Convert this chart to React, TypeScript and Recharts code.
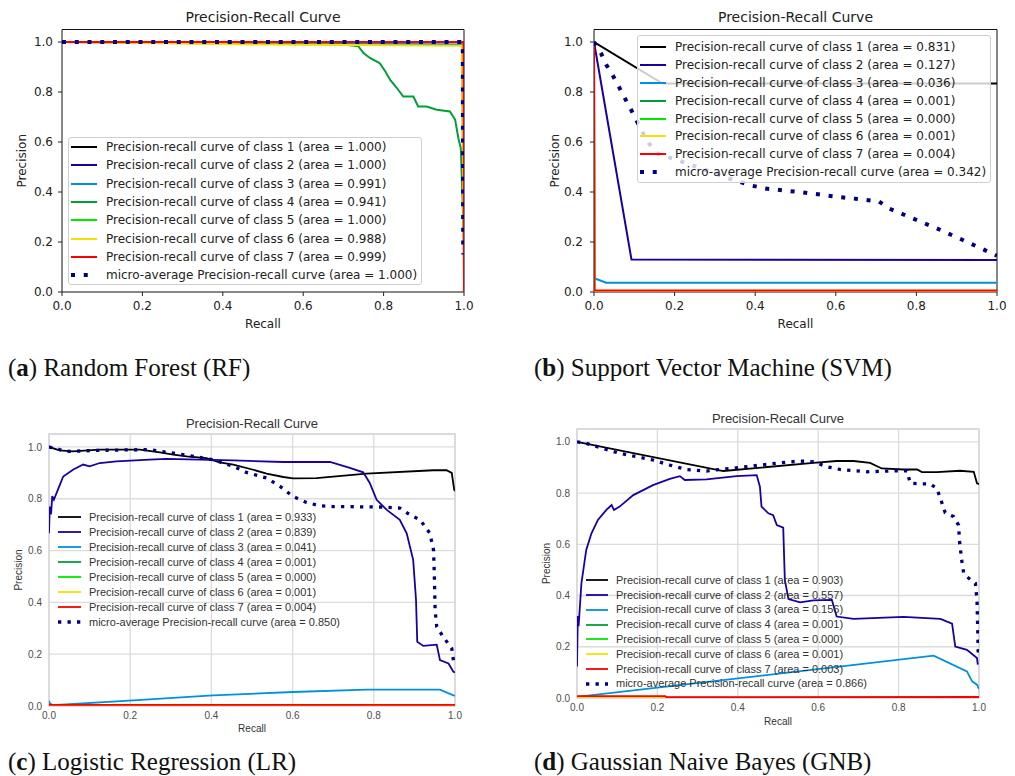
import React from "react";
import { LineChart, Line, XAxis, YAxis, CartesianGrid, Legend, ReferenceArea, Label } from "recharts";

// nipy_spectral colours used by scikit-plot for 7 classes
const classColors = ["#000000", "#1a00a0", "#0090dd", "#00a038", "#00ea00", "#f2e200", "#fa0000"];
const microColor = "#000080";
const axisTicks = [0, 0.2, 0.4, 0.6, 0.8, 1.0];

// (a) Random Forest
const rfAreas = ["1.000", "1.000", "0.991", "0.941", "1.000", "0.988", "0.999"];
const rfMicroArea = "1.000";
const rfRecall = [
  [0, 0.998, 1],
  [0, 0.998, 1],
  [0, 0.6, 0.995, 1],
  [0, 0.7, 0.737, 0.75, 0.766, 0.79, 0.804, 0.816, 0.833, 0.849, 0.874, 0.886, 0.907, 0.932, 0.965, 0.978, 0.986, 0.992, 0.997, 1],
  [0, 0.998, 1],
  [0, 0.5, 0.995, 1],
  [0, 0.999, 1],
];
const rfPrecision = [
  [1, 1, 0.35],
  [1, 1, 0.2],
  [1, 0.995, 0.99, 0.05],
  [1, 0.99, 0.983, 0.956, 0.936, 0.916, 0.883, 0.849, 0.816, 0.782, 0.782, 0.742, 0.742, 0.729, 0.722, 0.689, 0.615, 0.575, 0.342, 0.2],
  [1, 1, 0.25],
  [1, 0.99, 0.985, 0.05],
  [1, 1, 0],
];
const rfMicroRecall = [0, 0.997, 0.998];
const rfMicroPrecision = [1, 1, 0.15];

// (b) Support Vector Machine
const svmAreas = ["0.831", "0.127", "0.036", "0.001", "0.000", "0.001", "0.004"];
const svmMicroArea = "0.342";
const svmRecall = [
  [0, 0.17, 1],
  [0, 0.093, 1],
  [0, 0.001, 0.03, 1],
  [0, 0.001, 1],
  [0, 0.001, 1],
  [0, 0.001, 1],
  [0, 0.001, 1],
];
const svmPrecision = [
  [1, 0.834, 0.834],
  [1, 0.13, 0.128],
  [1, 0.055, 0.037, 0.037],
  [1, 0.001, 0.001],
  [0.85, 0, 0],
  [1, 0.001, 0.001],
  [1, 0.006, 0.006],
];
const svmMicroRecall = [0, 0.017, 0.03, 0.047, 0.062, 0.077, 0.092, 0.12, 0.136, 0.155, 0.184, 0.244, 0.333, 0.393, 0.425, 0.519, 0.614, 0.676, 0.707, 0.731, 0.79, 0.85, 0.907, 0.965, 1.0];
const svmMicroPrecision = [1, 0.956, 0.91, 0.865, 0.82, 0.774, 0.729, 0.64, 0.595, 0.555, 0.54, 0.507, 0.455, 0.425, 0.414, 0.398, 0.379, 0.368, 0.362, 0.335, 0.295, 0.255, 0.214, 0.171, 0.145];

// (c) Logistic Regression
const lrAreas = ["0.933", "0.839", "0.041", "0.001", "0.000", "0.001", "0.004"];
const lrMicroArea = "0.850";
const lrRecall = [
  [0, 0.026, 0.059, 0.125, 0.224, 0.273, 0.306, 0.339, 0.388, 0.42, 0.454, 0.503, 0.536, 0.577, 0.601, 0.659, 0.782, 0.947, 0.979, 0.992, 0.998, 1.0],
  [0, 0.002, 0.005, 0.008, 0.012, 0.022, 0.035, 0.059, 0.084, 0.1, 0.125, 0.166, 0.248, 0.289, 0.454, 0.577, 0.692, 0.741, 0.774, 0.79, 0.807, 0.832, 0.864, 0.881, 0.897, 0.904, 0.907, 0.922, 0.955, 0.963, 0.984, 0.996, 1.0],
  [0, 0.002, 0.01, 0.207, 0.404, 0.601, 0.782, 0.963, 0.996, 1],
  [0, 1],
  [0, 1],
  [0, 1],
  [0, 1],
];
const lrPrecision = [
  [1, 0.987, 0.983, 0.99, 0.99, 0.979, 0.97, 0.964, 0.957, 0.94, 0.932, 0.912, 0.897, 0.884, 0.879, 0.88, 0.897, 0.91, 0.91, 0.9, 0.835, 0.83],
  [0.667, 0.77, 0.74, 0.81, 0.796, 0.835, 0.886, 0.912, 0.932, 0.925, 0.938, 0.944, 0.951, 0.954, 0.948, 0.942, 0.942, 0.919, 0.902, 0.861, 0.796, 0.757, 0.719, 0.667, 0.564, 0.409, 0.248, 0.232, 0.237, 0.177, 0.164, 0.132, 0.13],
  [0.02, 0.01, 0.003, 0.022, 0.041, 0.054, 0.063, 0.063, 0.041, 0.04],
  [0.001, 0.001],
  [0, 0],
  [0.001, 0.001],
  [0.004, 0.004],
];
const lrMicroRecall = [0, 0.026, 0.05, 0.125, 0.248, 0.33, 0.404, 0.454, 0.486, 0.536, 0.569, 0.601, 0.634, 0.667, 0.7, 0.823, 0.864, 0.889, 0.914, 0.938, 0.947, 0.949, 0.951, 0.955, 0.971, 0.992, 0.996];
const lrMicroPrecision = [1, 0.99, 0.983, 0.987, 0.99, 0.97, 0.951, 0.925, 0.902, 0.88, 0.848, 0.809, 0.786, 0.773, 0.77, 0.768, 0.764, 0.738, 0.719, 0.667, 0.603, 0.512, 0.37, 0.306, 0.267, 0.222, 0.177];

// (d) Gaussian Naive Bayes
const gnbAreas = ["0.903", "0.557", "0.156", "0.001", "0.000", "0.001", "0.003"];
const gnbMicroArea = "0.866";
const gnbRecall = [
  [0, 0.364, 0.588, 0.646, 0.688, 0.729, 0.758, 0.812, 0.846, 0.858, 0.895, 0.953, 0.987, 0.995, 1.0],
  [0, 0.002, 0.004, 0.011, 0.023, 0.036, 0.052, 0.073, 0.086, 0.092, 0.106, 0.14, 0.189, 0.231, 0.256, 0.268, 0.322, 0.397, 0.447, 0.455, 0.459, 0.476, 0.488, 0.497, 0.513, 0.517, 0.526, 0.555, 0.588, 0.634, 0.646, 0.688, 0.812, 0.904, 0.933, 0.941, 0.97, 0.995, 0.997],
  [0, 0.887, 0.97, 0.983, 0.995, 1.0],
  [0, 1],
  [0, 1],
  [0, 1],
  [0, 0.22, 0.222, 1],
];
const gnbPrecision = [
  [1, 0.886, 0.918, 0.925, 0.925, 0.918, 0.896, 0.892, 0.892, 0.882, 0.882, 0.887, 0.883, 0.838, 0.835],
  [0.123, 0.32, 0.28, 0.448, 0.578, 0.643, 0.695, 0.734, 0.753, 0.734, 0.747, 0.792, 0.831, 0.855, 0.866, 0.851, 0.853, 0.866, 0.87, 0.825, 0.747, 0.721, 0.714, 0.675, 0.665, 0.461, 0.386, 0.373, 0.381, 0.383, 0.318, 0.309, 0.317, 0.309, 0.29, 0.201, 0.188, 0.156, 0.13],
  [0.004, 0.165, 0.104, 0.065, 0.052, 0.035],
  [0.001, 0.001],
  [0, 0],
  [0.001, 0.001],
  [0.007, 0.007, 0.003, 0.004],
];
const gnbMicroRecall = [0, 0.023, 0.065, 0.106, 0.148, 0.189, 0.231, 0.272, 0.322, 0.355, 0.389, 0.439, 0.505, 0.555, 0.588, 0.621, 0.654, 0.721, 0.796, 0.821, 0.829, 0.879, 0.895, 0.904, 0.916, 0.937, 0.949, 0.952, 0.958, 0.962, 0.974, 0.991, 0.995, 0.997, 0.998];
const gnbMicroPrecision = [1, 0.994, 0.974, 0.955, 0.942, 0.929, 0.909, 0.892, 0.886, 0.892, 0.897, 0.906, 0.918, 0.925, 0.922, 0.903, 0.892, 0.883, 0.887, 0.887, 0.838, 0.835, 0.818, 0.779, 0.723, 0.708, 0.675, 0.604, 0.526, 0.487, 0.468, 0.448, 0.383, 0.253, 0.175];

const zip = (r: number[], p: number[]) => r.map((v, i) => ({ r: v, p: p[i] }));

const buildSeries = (rec: number[][], prec: number[][], areas: string[], mr: number[], mp: number[], microArea: string) => [
  ...rec.map((r, i) => ({
    name: `Precision-recall curve of class ${i + 1} (area = ${areas[i]})`,
    color: classColors[i],
    micro: false,
    data: zip(r, prec[i]),
  })),
  { name: `micro-average Precision-recall curve (area = ${microArea})`, color: microColor, micro: true, data: zip(mr, mp) },
];

const classic = {
  font: "'DejaVu Sans', sans-serif",
  text: "#222",
  tickFont: 12,
  labelFont: 12,
  titleFont: 14,
  lineW: 2,
  dotW: 4,
  dash: "4 8.75",
};
const seaborn = {
  font: "'Liberation Sans', Arial, sans-serif",
  text: "#333",
  tickFont: 10,
  labelFont: 10,
  titleFont: 13,
  lineW: 1.8,
  dotW: 3.3,
  dash: "3.3 6.2",
};

const panels = [
  {
    key: "rf", left: 0, top: 0, width: 480, height: 345, seaborn: false,
    margin: { top: 29.5, right: 16, bottom: 13, left: 0 }, yAxisW: 62, xAxisH: 40,
    xTickMargin: 5, yTickMargin: 5, titleY: 17, yLabelX: 22, xLabelOffset: 4.5,
    legend: { left: 68, top: 137, width: 354, height: 148, rowH: 18.3, padTop: 0, padLeft: 2, handleW: 26, gap: 9, fontSize: 12, boxed: true },
    series: buildSeries(rfRecall, rfPrecision, rfAreas, rfMicroRecall, rfMicroPrecision, rfMicroArea),
  },
  {
    key: "svm", left: 520, top: 0, width: 495, height: 345, seaborn: false,
    margin: { top: 29.5, right: 18, bottom: 13, left: 0 }, yAxisW: 74, xAxisH: 40,
    xTickMargin: 5, yTickMargin: 7, titleY: 17, yLabelX: 35, xLabelOffset: 4.5,
    legend: { left: 117, top: 35, width: 354, height: 148, rowH: 17.9, padTop: 2, padLeft: 2, handleW: 26, gap: 9, fontSize: 12, boxed: true },
    series: buildSeries(svmRecall, svmPrecision, svmAreas, svmMicroRecall, svmMicroPrecision, svmMicroArea),
  },
  {
    key: "lr", left: 0, top: 400, width: 480, height: 376, seaborn: true,
    margin: { top: 34, right: 25, bottom: 40, left: 0 }, yAxisW: 49, xAxisH: 30,
    xTickMargin: 6, yTickMargin: 7, titleY: 24, yLabelX: 18, xLabelOffset: 3.7,
    legend: { left: 58, top: 109.5, width: 300, height: 120, rowH: 15, padTop: 0, padLeft: 0, handleW: 23, gap: 8, fontSize: 11, boxed: false },
    series: buildSeries(lrRecall, lrPrecision, lrAreas, lrMicroRecall, lrMicroPrecision, lrMicroArea),
  },
  {
    key: "gnb", left: 520, top: 400, width: 495, height: 376, seaborn: true,
    margin: { top: 29, right: 36, bottom: 48, left: 0 }, yAxisW: 57, xAxisH: 30,
    xTickMargin: 6, yTickMargin: 7, titleY: 19, yLabelX: 26, xLabelOffset: 2.7,
    legend: { left: 66, top: 172.9, width: 300, height: 120, rowH: 14.8, padTop: 0, padLeft: 0, handleW: 22, gap: 8, fontSize: 11, boxed: false },
    series: buildSeries(gnbRecall, gnbPrecision, gnbAreas, gnbMicroRecall, gnbMicroPrecision, gnbMicroArea),
  },
];

const captions = [
  { letter: "a", text: " Random Forest (RF)", left: 8, top: 354.6 },
  { letter: "b", text: " Support Vector Machine (SVM)", left: 534, top: 354.6 },
  { letter: "c", text: " Logistic Regression (LR)", left: 8, top: 748.6 },
  { letter: "d", text: " Gaussian Naive Bayes (GNB)", left: 534, top: 748.6 },
];

const fmt = (v: number) => v.toFixed(1);

const LegendContent = ({ payload, spec, look }: any) => {
  const lg = spec.legend;
  return (
    <div
      style={{
        boxSizing: "border-box",
        width: lg.width,
        height: lg.height,
        border: lg.boxed ? "1px solid #cfcfcf" : "none",
        borderRadius: 3,
        background: lg.boxed ? "rgba(255,255,255,0.8)" : "transparent",
        paddingTop: lg.padTop,
        paddingLeft: lg.padLeft,
      }}
    >
      {(payload || []).map((item: any) => {
        const micro = String(item.value).startsWith("micro");
        return (
          <div key={item.value} style={{ display: "flex", alignItems: "center", height: lg.rowH }}>
            <svg width={lg.handleW} height={6} style={{ flexShrink: 0, display: "block" }}>
              <line
                x1={0}
                x2={micro && !spec.seaborn ? lg.handleW - 4 : lg.handleW}
                y1={3}
                y2={3}
                stroke={item.color}
                strokeWidth={micro ? look.dotW : look.lineW}
                strokeDasharray={micro ? look.dash : undefined}
              />
            </svg>
            <span style={{ marginLeft: lg.gap, fontSize: lg.fontSize, fontFamily: look.font, color: look.text, whiteSpace: "nowrap", lineHeight: 1 }}>
              {item.value}
            </span>
          </div>
        );
      })}
    </div>
  );
};

const Panel = ({ spec }: any) => {
  const look = spec.seaborn ? seaborn : classic;
  const plotLeft = spec.margin.left + spec.yAxisW;
  const plotW = spec.width - plotLeft - spec.margin.right;
  const tickStyle = { fill: spec.seaborn ? "#4d4d4d" : "#222", fontSize: look.tickFont, fontFamily: look.font };
  const labelStyle = { fill: look.text, fontSize: look.labelFont, fontFamily: look.font };
  return (
    <div style={{ position: "absolute", left: spec.left, top: spec.top, width: spec.width, height: spec.height }}>
      <div
        style={{
          position: "absolute",
          left: plotLeft,
          width: plotW,
          top: spec.titleY - 10,
          height: 20,
          lineHeight: "20px",
          textAlign: "center",
          fontFamily: look.font,
          fontSize: look.titleFont,
          color: look.text,
          whiteSpace: "nowrap",
        }}
      >
        Precision-Recall Curve
      </div>
      <LineChart width={spec.width} height={spec.height} margin={spec.margin}>
        {spec.seaborn && <CartesianGrid stroke="#dcdcdc" strokeWidth={1.3} />}
        <XAxis
          type="number"
          dataKey="r"
          domain={[0, 1]}
          allowDataOverflow
          ticks={axisTicks}
          interval={0}
          tickFormatter={fmt}
          height={spec.xAxisH}
          axisLine={false}
          tickLine={spec.seaborn ? false : { stroke: "#222" }}
          tickSize={spec.seaborn ? 0 : 4}
          tickMargin={spec.xTickMargin}
          tick={tickStyle}
        >
          <Label value="Recall" position="insideBottom" offset={spec.xLabelOffset} style={labelStyle} />
        </XAxis>
        <YAxis
          type="number"
          dataKey="p"
          domain={[0, 1.05]}
          allowDataOverflow
          ticks={axisTicks}
          interval={0}
          tickFormatter={fmt}
          width={spec.yAxisW}
          axisLine={false}
          tickLine={spec.seaborn ? false : { stroke: "#222" }}
          tickSize={spec.seaborn ? 0 : 4}
          tickMargin={spec.yTickMargin}
          tick={tickStyle}
        >
          <Label
            value="Precision"
            angle={-90}
            position="insideLeft"
            offset={spec.yLabelX}
            style={{ ...labelStyle, textAnchor: "middle" }}
          />
        </YAxis>
        <ReferenceArea
          x1={0}
          x2={1}
          y1={0}
          y2={1.05}
          fill="none"
          fillOpacity={0}
          stroke={spec.seaborn ? "#d6d6d6" : "#111"}
          strokeWidth={spec.seaborn ? 1.5 : 1}
        />
        {spec.series.map((s: any) => (
          <Line
            key={s.name}
            name={s.name}
            data={s.data}
            dataKey="p"
            type="linear"
            stroke={s.color}
            strokeWidth={s.micro ? look.dotW : look.lineW}
            strokeDasharray={s.micro ? look.dash : undefined}
            dot={false}
            activeDot={false}
            isAnimationActive={false}
          />
        ))}
        <Legend
          layout="horizontal"
          verticalAlign="middle"
          align="center"
          wrapperStyle={{ left: spec.legend.left, top: spec.legend.top, width: spec.legend.width, height: spec.legend.height }}
          content={(props: any) => <LegendContent {...props} spec={spec} look={look} />}
        />
      </LineChart>
    </div>
  );
};

export default function App() {
  return (
    <div style={{ position: "absolute", left: 0, top: 0, width: 1015, height: 776, background: "#fff", overflow: "hidden" }}>
      {panels.map((p) => (
        <Panel key={p.key} spec={p} />
      ))}
      {captions.map((c) => (
        <div
          key={c.letter}
          style={{
            position: "absolute",
            left: c.left,
            top: c.top,
            fontFamily: "'Liberation Serif', serif",
            fontSize: 25,
            lineHeight: "25px",
            color: "#111",
            whiteSpace: "nowrap",
          }}
        >
          (<b>{c.letter}</b>){c.text}
        </div>
      ))}
    </div>
  );
}
